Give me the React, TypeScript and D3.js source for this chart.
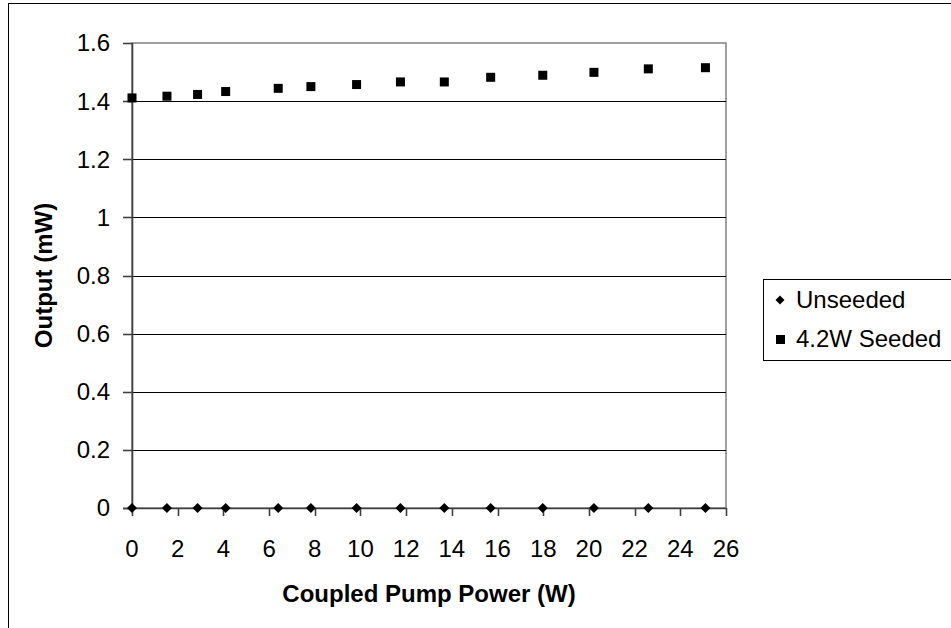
import React from "react";
import * as d3 from "d3";

const xValues = [0, 1.53, 2.87, 4.1, 6.4, 7.83, 9.83, 11.75, 13.67, 15.7, 17.98, 20.22, 22.6, 25.1];
const unseeded = [0, 0, 0, 0, 0, 0, 0, 0, 0, 0, 0, 0, 0, 0];
const seeded = [1.411, 1.417, 1.423, 1.433, 1.444, 1.45, 1.457, 1.466, 1.466, 1.482, 1.489, 1.499, 1.511, 1.515];
const xTicks = [0, 2, 4, 6, 8, 10, 12, 14, 16, 18, 20, 22, 24, 26];
const yTicks = [0, 0.2, 0.4, 0.6, 0.8, 1, 1.2, 1.4, 1.6];
const seriesNames = ["Unseeded", "4.2W Seeded"];
const xTitle = "Coupled Pump Power (W)";
const yTitle = "Output (mW)";

const W = 951;
const H = 628;
const left = 132, right = 726, top = 43, bottom = 508;
const FONT = "Arial, 'Liberation Sans', sans-serif";
const FS = 24;

export default function App() {
  const x = d3.scaleLinear().domain([0, 26]).range([left, right]);
  const y = d3.scaleLinear().domain([0, 1.6]).range([bottom, top]);
  const sq = 9;
  const dia = 5;
  const diamondPath = (cx: number, cy: number, r: number) =>
    `M${cx},${cy - r}L${cx + r},${cy}L${cx},${cy + r}L${cx - r},${cy}Z`;
  const fmt = (v: number) => (v === 0 || v === 1 ? String(v) : d3.format(".1f")(v));
  const legX = 763, legY = 279;
  return (
    <svg width={W} height={H} style={{ position: "absolute", left: 0, top: 0, display: "block" }}
      fontFamily={FONT}>
      <rect x={0} y={0} width={W} height={H} fill="#fff" />
      <rect x={8.5} y={3.5} width={W + 10} height={H + 10} fill="none" stroke="#000" strokeWidth={1} />
      {/* plot border */}
      <rect x={left} y={top} width={right - left} height={bottom - top} fill="none" stroke="#808080" strokeWidth={1.5} />
      {/* gridlines */}
      {yTicks.filter(t => t > 0 && t < 1.6).map(t => (
        <line key={t} x1={left} x2={right} y1={Math.round(y(t)) + 0.5} y2={Math.round(y(t)) + 0.5} stroke="#000" strokeWidth={1.2} />
      ))}
      {/* y axis */}
      <line x1={left + 0.5} x2={left + 0.5} y1={top} y2={bottom} stroke="#404040" strokeWidth={1.6} />
      {yTicks.map(t => (
        <g key={t}>
          <line x1={left - 9} x2={left} y1={Math.round(y(t)) + 0.5} y2={Math.round(y(t)) + 0.5} stroke="#404040" strokeWidth={1.6} />
          <text x={110} y={y(t)} dy="0.35em" textAnchor="end" fontSize={FS}>{fmt(t)}</text>
        </g>
      ))}
      {/* x axis */}
      <line x1={left - 9} x2={right} y1={Math.round(bottom) + 0.5} y2={Math.round(bottom) + 0.5} stroke="#404040" strokeWidth={1.6} />
      {xTicks.map(t => (
        <g key={t}>
          <line x1={Math.round(x(t)) + 0.5} x2={Math.round(x(t)) + 0.5} y1={bottom} y2={bottom + 8} stroke="#404040" strokeWidth={1.6} />
          <text x={x(t)} y={557} textAnchor="middle" fontSize={FS}>{t}</text>
        </g>
      ))}
      {/* series */}
      {xValues.map((v, i) => (
        <path key={"u" + i} d={diamondPath(x(v), y(unseeded[i]), dia)} fill="#000" />
      ))}
      {xValues.map((v, i) => (
        <rect key={"s" + i} x={x(v) - sq / 2} y={y(seeded[i]) - sq / 2} width={sq} height={sq} fill="#000" />
      ))}
      {/* titles */}
      <text x={(left + right) / 2} y={602} textAnchor="middle" fontSize={FS} fontWeight="bold">{xTitle}</text>
      <text transform={`translate(52, ${(top + bottom) / 2}) rotate(-90)`} textAnchor="middle" fontSize={FS} fontWeight="bold">{yTitle}</text>
      {/* legend */}
      <rect x={legX + 0.5} y={legY + 0.5} width={W} height={81} fill="#fff" stroke="#000" strokeWidth={1} />
      <path d={diamondPath(legX + 17, legY + 21, 4.5)} fill="#000" />
      <text x={legX + 33} y={legY + 21} dy="0.35em" fontSize={FS}>{seriesNames[0]}</text>
      <rect x={legX + 13} y={legY + 56} width={9} height={9} fill="#000" />
      <text x={legX + 33} y={legY + 60} dy="0.35em" fontSize={FS}>{seriesNames[1]}</text>
    </svg>
  );
}
